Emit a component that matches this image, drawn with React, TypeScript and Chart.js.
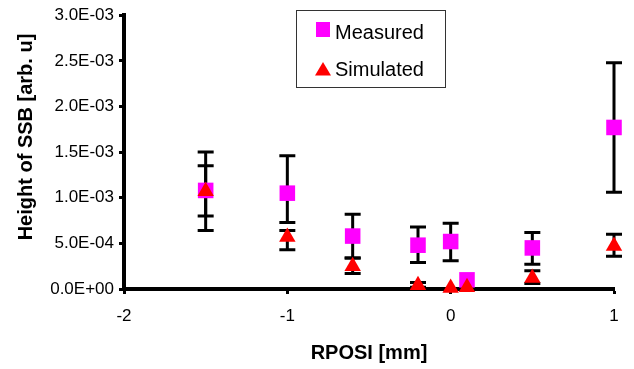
import React, { useEffect, useRef } from "react";
import { Chart, registerables } from "chart.js";

Chart.register(...registerables);

// ---- data ----
const xValues = [-1.5, -1.0, -0.6, -0.2, 0.0, 0.1, 0.5, 1.0];

const measured = [1.08e-3, 1.05e-3, 0.58e-3, 0.48e-3, 0.52e-3, 0.10e-3, 0.45e-3, 1.77e-3];
const measuredHigh = [1.50e-3, 1.46e-3, 0.82e-3, 0.68e-3, 0.72e-3, 0.10e-3, 0.62e-3, 2.48e-3];
const measuredLow = [0.64e-3, 0.73e-3, 0.34e-3, 0.29e-3, 0.31e-3, 0.10e-3, 0.27e-3, 1.06e-3];

const simulated = [1.07e-3, 0.57e-3, 0.25e-3, 0.04e-3, 0.01e-3, 0.02e-3, 0.12e-3, 0.47e-3];
const simulatedHigh = [1.35e-3, 0.64e-3, 0.34e-3, 0.07e-3, 0.01e-3, 0.02e-3, 0.20e-3, 0.60e-3];
const simulatedLow = [0.80e-3, 0.43e-3, 0.17e-3, 0.02e-3, 0.01e-3, 0.02e-3, 0.06e-3, 0.36e-3];

const seriesLabels = ["Measured", "Simulated"];
const xTitle = "RPOSI [mm]";
const yTitle = "Height of SSB [arb. u]";
const xMin = -2;
const xMax = 1;
const xStep = 1;
const yMin = 0;
const yMax = 3.0e-3;
const yStep = 5.0e-4;

const FONT = "'Liberation Sans', Arial, Helvetica, sans-serif";

function fmtExp(v: number): string {
  if (Math.abs(v) < 1e-12) return "0.0E+00";
  const s = v.toExponential(1);
  const [m, e] = s.split("e");
  const n = parseInt(e, 10);
  const sign = n < 0 ? "-" : "+";
  const abs = Math.abs(n);
  return `${m}E${sign}${abs < 10 ? "0" + abs : abs}`;
}

const errorSets = [
  { low: measuredLow, high: measuredHigh },
  { low: simulatedLow, high: simulatedHigh },
];

const errorBarPlugin = {
  id: "errorBars",
  beforeDatasetsDraw(chart: any) {
    const ctx = chart.ctx;
    const xs = chart.scales.x;
    const ys = chart.scales.y;
    ctx.save();
    ctx.strokeStyle = "#000";
    ctx.lineWidth = 3;
    ctx.lineCap = "butt";
    errorSets.forEach((set) => {
      xValues.forEach((xv, i) => {
        const px = xs.getPixelForValue(xv);
        const pl = ys.getPixelForValue(set.low[i]);
        const ph = ys.getPixelForValue(set.high[i]);
        if (Math.abs(pl - ph) < 0.5) return;
        const hw = 8;
        ctx.beginPath();
        ctx.moveTo(px, pl);
        ctx.lineTo(px, ph);
        ctx.moveTo(px - hw, pl);
        ctx.lineTo(px + hw, pl);
        ctx.moveTo(px - hw, ph);
        ctx.lineTo(px + hw, ph);
        ctx.stroke();
      });
    });
    ctx.restore();
  },
};

const titlesPlugin = {
  id: "axisTitles",
  afterDraw(chart: any) {
    const ctx = chart.ctx;
    const area = chart.chartArea;
    ctx.save();
    ctx.fillStyle = "#000";
    ctx.font = `bold 20px ${FONT}`;
    ctx.textAlign = "center";
    ctx.textBaseline = "middle";
    ctx.fillText(xTitle, (area.left + area.right) / 2, 353);
    ctx.translate(26, 137);
    ctx.rotate(-Math.PI / 2);
    ctx.fillText(yTitle, 0, 0);
    ctx.restore();
  },
};

const legendPlugin = {
  id: "boxLegend",
  afterDraw(chart: any) {
    const ctx = chart.ctx;
    ctx.save();
    ctx.fillStyle = "#fff";
    ctx.fillRect(296, 10, 150, 78);
    ctx.strokeStyle = "#333";
    ctx.lineWidth = 1;
    ctx.strokeRect(296.5, 10.5, 149, 77);
    // Measured square
    ctx.fillStyle = "#FF00FF";
    ctx.fillRect(316, 22, 14, 15);
    // Simulated triangle
    ctx.fillStyle = "#FF0000";
    ctx.beginPath();
    ctx.moveTo(323, 62);
    ctx.lineTo(331, 75.5);
    ctx.lineTo(315, 75.5);
    ctx.closePath();
    ctx.fill();
    ctx.fillStyle = "#000";
    ctx.font = `20px ${FONT}`;
    ctx.textAlign = "left";
    ctx.textBaseline = "middle";
    ctx.fillText(seriesLabels[0], 335, 33);
    ctx.fillText(seriesLabels[1], 335, 70);
    ctx.restore();
  },
};

export default function App() {
  const ref = useRef<HTMLCanvasElement | null>(null);

  useEffect(() => {
    if (!ref.current) return;
    const chart = new Chart(ref.current, {
      type: "scatter",
      data: {
        datasets: [
          {
            label: seriesLabels[0],
            data: xValues.map((x, i) => ({ x, y: measured[i] })),
            backgroundColor: "#FF00FF",
            borderColor: "#FF00FF",
            borderWidth: 0,
            pointStyle: "rect",
            pointRadius: 11,
            pointHoverRadius: 11,
            order: 2,
            clip: false as any,
          },
          {
            label: seriesLabels[1],
            data: xValues.map((x, i) => ({ x, y: simulated[i] })),
            backgroundColor: "#FF0000",
            borderColor: "#FF0000",
            borderWidth: 0,
            pointStyle: "triangle",
            pointRadius: 9.5,
            pointHoverRadius: 9.5,
            order: 1,
            clip: false as any,
          },
        ],
      },
      options: {
        responsive: false,
        animation: false,
        events: [],
        layout: { padding: { left: 0, top: 11, right: 20, bottom: 0 } },
        plugins: {
          legend: { display: false },
          tooltip: { enabled: false },
          title: { display: false },
        },
        scales: {
          x: {
            type: "linear",
            position: "bottom",
            min: xMin,
            max: xMax,
            afterFit(scale: any) {
              scale.height = 80;
            },
            ticks: {
              stepSize: xStep,
              color: "#000",
              padding: 12,
              font: { family: FONT, size: 17 },
              callback: (v: any) => String(v),
            },
            grid: {
              display: true,
              drawOnChartArea: false,
              drawTicks: true,
              tickLength: 5,
              tickWidth: 3,
              tickColor: "#000",
              color: "#000",
            },
            border: { display: true, color: "#000", width: 4 },
            title: { display: false },
          },
          y: {
            type: "linear",
            position: "left",
            min: yMin,
            max: yMax,
            afterFit(scale: any) {
              scale.width = 124;
            },
            ticks: {
              stepSize: yStep,
              color: "#000",
              padding: 5,
              font: { family: FONT, size: 17 },
              callback: (v: any) => fmtExp(Number(v)),
            },
            grid: {
              display: true,
              drawOnChartArea: false,
              drawTicks: true,
              tickLength: 5,
              tickWidth: 3,
              tickColor: "#000",
              color: "#000",
            },
            border: { display: true, color: "#000", width: 4 },
            title: { display: false },
          },
        },
      },
      plugins: [errorBarPlugin, titlesPlugin, legendPlugin],
    });
    return () => chart.destroy();
  }, []);

  return (
    <div style={{ position: "absolute", left: 0, top: 0, width: 634, height: 369, background: "#fff" }}>
      <canvas ref={ref} width={634} height={369} />
    </div>
  );
}
